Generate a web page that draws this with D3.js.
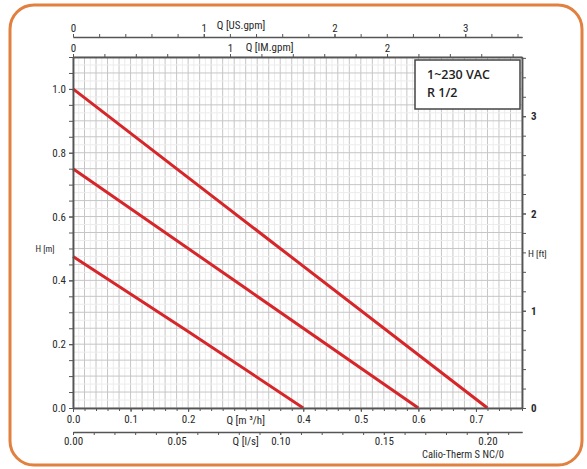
<!DOCTYPE html>
<html><head><meta charset="utf-8">
<script src="https://cdn.jsdelivr.net/npm/d3@7"></script>
<style>
html,body{margin:0;padding:0;background:#fff;}
svg{display:block;}
text{font-family:"Liberation Sans Narrow","Roboto Condensed",Roboto,sans-serif;fill:#2a2a2a;}
</style></head>
<body><svg id="c" width="587" height="469"></svg>
<script>
// ---- data ----
const curveNames = ["speed 3", "speed 2", "speed 1"];
const curve3Q = [0.0, 0.36, 0.72];
const curve3H = [1.0, 0.5, 0.0];
const curve2Q = [0.0, 0.30, 0.60];
const curve2H = [0.75, 0.375, 0.0];
const curve1Q = [0.0, 0.20, 0.40];
const curve1H = [0.475, 0.24, 0.0];

const hTicks = [0.0, 0.2, 0.4, 0.6, 0.8, 1.0];
const qTicks = [0.0, 0.1, 0.2, 0.4, 0.5, 0.6, 0.7];
const lsTicks = [0.00, 0.05, 0.10, 0.15, 0.20];
const usTicks = [0, 1, 2, 3];
const imTicks = [0, 1, 2];
const ftTicks = [0, 1, 2, 3];
const legendLines = ["1~230 VAC", "R 1/2"];
const modelName = "Calio-Therm S NC/0";

// unit conversions (to m3/h and m)
const US2M3H = 0.2271247, IM2M3H = 0.2727654, LS2M3H = 3.6, FT2M = 0.3048;

// ---- layout ----
const L = 73, R = 522, T = 57, B = 408;
const qMax = 0.78, hMax = 1.1;
const svg = d3.select("#c");

svg.append("rect").attr("x", 10).attr("y", 5).attr("width", 572).attr("height", 460)
  .attr("rx", 24).attr("fill", "#fff").attr("stroke", "#e2803f").attr("stroke-width", 3);

const x = d3.scaleLinear().domain([0, qMax]).range([L, R]);
const y = d3.scaleLinear().domain([0, hMax]).range([B, T]);
const xUS = d3.scaleLinear().domain([0, qMax / US2M3H]).range([L, R]);
const xIM = d3.scaleLinear().domain([0, qMax / IM2M3H]).range([L, R]);
const xLS = d3.scaleLinear().domain([0, qMax / LS2M3H]).range([L, R]);
const yFT = d3.scaleLinear().domain([0, hMax / FT2M]).range([B, T]);

// grid
const g = svg.append("g");
const fineQ = d3.range(0, qMax + 1e-9, 0.01);
const fineH = d3.range(0, hMax + 1e-9, 0.025);
g.selectAll(".vf").data(fineQ).join("line")
  .attr("x1", d => x(d)).attr("x2", d => x(d)).attr("y1", T).attr("y2", B)
  .attr("stroke", (d, i) => i % 2 === 0 ? "#c6c6c6" : "#ececec").attr("stroke-width", 1);
g.selectAll(".hf").data(fineH).join("line")
  .attr("y1", d => y(d)).attr("y2", d => y(d)).attr("x1", L).attr("x2", R)
  .attr("stroke", (d, i) => i % 2 === 0 ? "#c6c6c6" : "#ececec").attr("stroke-width", 1);

// curves
const series = [
  {name: curveNames[0], q: curve3Q, h: curve3H},
  {name: curveNames[1], q: curve2Q, h: curve2H},
  {name: curveNames[2], q: curve1Q, h: curve1H}
];
const line = d3.line().x(d => x(d[0])).y(d => y(d[1]));
svg.selectAll(".curve").data(series).join("path")
  .attr("d", s => line(s.q.map((q, i) => [q, s.h[i]])))
  .attr("fill", "none").attr("stroke", "#d6262a").attr("stroke-width", 3);

// axes helper
const axisColor = "#555";
function styleAxis(sel) {
  sel.selectAll(".domain").attr("stroke", axisColor).attr("stroke-width", 1.5);
  sel.selectAll(".tick line").attr("stroke", axisColor).attr("stroke-width", 1);
  sel.selectAll("text").style("font-size", "11px").style("fill", "#2a2a2a");
}

// left axis (H m)
const leftMinor = svg.append("g").attr("transform", `translate(${L},0)`)
  .call(d3.axisLeft(y).tickValues(d3.range(0, hMax + 1e-9, 0.05)).tickFormat("").tickSize(4).tickSizeOuter(0));
styleAxis(leftMinor);
const leftAx = svg.append("g").attr("transform", `translate(${L},0)`)
  .call(d3.axisLeft(y).tickValues(hTicks).tickFormat(d3.format(".1f")).tickSize(4).tickPadding(3).tickSizeOuter(0));
styleAxis(leftAx);
svg.append("text").attr("x", 45).attr("y", y(0.5)).attr("dy", "0.35em")
  .attr("text-anchor", "middle").style("font-size", "9px").style("fill", "#2a2a2a").text("H [m]");

// right axis (H ft)
const rightMinor = svg.append("g").attr("transform", `translate(${R},0)`)
  .call(d3.axisRight(yFT).tickValues(d3.range(0, hMax / FT2M, 0.2)).tickFormat("").tickSize(4).tickSizeOuter(0));
styleAxis(rightMinor);
const rightAx = svg.append("g").attr("transform", `translate(${R},0)`)
  .call(d3.axisRight(yFT).tickValues(ftTicks).tickFormat(d3.format("d")).tickSize(4).tickPadding(5).tickSizeOuter(0));
styleAxis(rightAx);
rightAx.selectAll("text").style("font-weight", "bold");
svg.append("text").attr("x", 528).attr("y", y(0.485)).attr("dy", "0.35em")
  .style("font-size", "9.5px").style("fill", "#2a2a2a").text("H [ft]");

// bottom axis (m3/h)
const botMinor = svg.append("g").attr("transform", `translate(0,${B})`)
  .call(d3.axisBottom(x).tickValues(d3.range(0, qMax + 1e-9, 0.02)).tickFormat("").tickSize(3).tickSizeOuter(0));
styleAxis(botMinor);
const botAx = svg.append("g").attr("transform", `translate(0,${B})`)
  .call(d3.axisBottom(x).tickValues(qTicks).tickFormat(d3.format(".1f")).tickSize(4).tickPadding(3).tickSizeOuter(0));
styleAxis(botAx);
svg.append("text").attr("x", x(0.3)).attr("y", 420).attr("dy", "0.35em")
  .attr("text-anchor", "middle").style("font-size", "11px").style("fill", "#2a2a2a").text("Q [m ³/h]");

// l/s axis
const lsY = 432;
const lsMinor = svg.append("g").attr("transform", `translate(0,${lsY})`)
  .call(d3.axisBottom(xLS).tickValues(d3.range(0, qMax / LS2M3H, 0.01)).tickFormat("").tickSize(3).tickSizeOuter(0));
styleAxis(lsMinor);
const lsAx = svg.append("g").attr("transform", `translate(0,${lsY})`)
  .call(d3.axisBottom(xLS).tickValues(lsTicks).tickFormat(d3.format(".2f")).tickSize(3).tickPadding(2).tickSizeOuter(0));
styleAxis(lsAx);
lsAx.select(".domain").attr("stroke-width", 1.2);
svg.append("text").attr("x", x(0.3)).attr("y", 441).attr("dy", "0.35em")
  .attr("text-anchor", "middle").style("font-size", "11px").style("fill", "#2a2a2a").text("Q [l/s]");

// IM gpm axis at plot top
const imMinor = svg.append("g").attr("transform", `translate(0,${T})`)
  .call(d3.axisTop(xIM).tickValues(d3.range(0, qMax / IM2M3H, 0.2)).tickFormat("").tickSize(3).tickSizeOuter(0));
styleAxis(imMinor);
const imAx = svg.append("g").attr("transform", `translate(0,${T})`)
  .call(d3.axisTop(xIM).tickValues(imTicks).tickFormat(d3.format("d")).tickSize(3).tickPadding(2).tickSizeOuter(0));
styleAxis(imAx);
svg.append("text").attr("x", xIM(1.1)).attr("y", 47).attr("dy", "0.35em")
  .style("font-size", "11px").style("fill", "#2a2a2a").text("Q [IM.gpm]");

// US gpm axis
const usY = 37;
const usMinor = svg.append("g").attr("transform", `translate(0,${usY})`)
  .call(d3.axisTop(xUS).tickValues(d3.range(0, qMax / US2M3H, 0.2)).tickFormat("").tickSize(3).tickSizeOuter(0));
styleAxis(usMinor);
const usAx = svg.append("g").attr("transform", `translate(0,${usY})`)
  .call(d3.axisTop(xUS).tickValues(usTicks).tickFormat(d3.format("d")).tickSize(3).tickPadding(2).tickSizeOuter(0));
styleAxis(usAx);
usAx.select(".domain").attr("stroke-width", 1.2);
svg.append("text").attr("x", xUS(1.1)).attr("y", 25).attr("dy", "0.35em")
  .style("font-size", "11px").style("fill", "#2a2a2a").text("Q [US.gpm]");

// legend box
svg.append("rect").attr("x", 415).attr("y", 60).attr("width", 105).attr("height", 49)
  .attr("fill", "#fff").attr("stroke", "#444").attr("stroke-width", 1.5);
svg.selectAll(".leg").data(legendLines).join("text")
  .attr("x", 427).attr("y", (d, i) => 79 + i * 18)
  .style("font-family", "'Open Sans',sans-serif").style("font-size", "12.5px").style("font-weight", "600")
  .style("fill", "#222").text(d => d);

// model name
svg.append("text").attr("x", 504).attr("y", 454).attr("dy", "0.35em")
  .attr("text-anchor", "end").style("font-size", "10.5px").style("fill", "#2a2a2a").text(modelName);
</script></body></html>
